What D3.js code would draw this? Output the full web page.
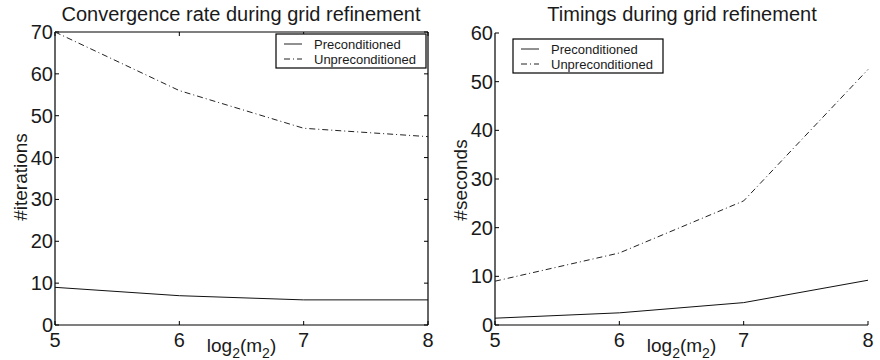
<!DOCTYPE html>
<html><head><meta charset="utf-8">
<script src="https://cdn.jsdelivr.net/npm/d3@7/dist/d3.min.js"></script>
<style>body{margin:0;background:#fff}svg{display:block}text{font-family:"Liberation Sans",Arial,sans-serif;fill:#1a1a1a}</style>
</head><body><svg id="c" width="880" height="360"></svg>
<script>
const xValues = [5, 6, 7, 8];
const iterPre = [9, 7, 6, 6];
const iterUnpre = [70, 56, 47, 45];
const timePre = [1.4, 2.5, 4.6, 9.2];
const timeUnpre = [9, 14.8, 25.5, 52.5];
const seriesNames = ["Preconditioned", "Unpreconditioned"];
const iterTicks = [0, 10, 20, 30, 40, 50, 60, 70];
const timeTicks = [0, 10, 20, 30, 40, 50, 60];

const svg = d3.select("#c");
const dashDot = "6,3,1,3";

function panel(o) {
  const g = svg.append("g");
  const x = d3.scaleLinear().domain([5, 8]).range([o.x0, o.x1]);
  const y = d3.scaleLinear().domain([0, o.ymax]).range([o.y0, o.y1]);
  const ax = "#000";
  g.append("line").attr("x1", o.x0).attr("x2", o.x0).attr("y1", o.y0).attr("y2", o.y1).attr("stroke", ax).attr("stroke-width", 1.2);
  g.append("line").attr("x1", o.x0).attr("x2", o.x1).attr("y1", o.y0).attr("y2", o.y0).attr("stroke", ax).attr("stroke-width", 1.2);
  if (o.box) {
    g.append("line").attr("x1", o.x1).attr("x2", o.x1).attr("y1", o.y0).attr("y2", o.y1).attr("stroke", ax).attr("stroke-width", 1.2);
    g.append("line").attr("x1", o.x0).attr("x2", o.x1).attr("y1", o.y1).attr("y2", o.y1).attr("stroke", ax).attr("stroke-width", 1.2);
  }
  const tl = 4;
  o.ticks.forEach(t => {
    g.append("line").attr("x1", o.x0).attr("x2", o.x0 + tl).attr("y1", y(t)).attr("y2", y(t)).attr("stroke", ax);
    if (o.box) g.append("line").attr("x1", o.x1).attr("x2", o.x1 - tl).attr("y1", y(t)).attr("y2", y(t)).attr("stroke", ax);
    g.append("text").attr("x", o.x0 - 2).attr("y", y(t) + 7).attr("text-anchor", "end").attr("font-size", 20).text(t);
  });
  xValues.forEach(t => {
    g.append("line").attr("x1", x(t)).attr("x2", x(t)).attr("y1", o.y0).attr("y2", o.y0 - tl).attr("stroke", ax);
    if (o.box) g.append("line").attr("x1", x(t)).attr("x2", x(t)).attr("y1", o.y1).attr("y2", o.y1 + tl).attr("stroke", ax);
    g.append("text").attr("x", x(t)).attr("y", o.y0 + 22).attr("text-anchor", "middle").attr("font-size", 20).text(t);
  });
  const line = d3.line().x((d, i) => x(xValues[i])).y(d => y(d));
  g.append("path").attr("d", line(o.pre)).attr("fill", "none").attr("stroke", "#111").attr("stroke-width", 1);
  g.append("path").attr("d", line(o.unpre)).attr("fill", "none").attr("stroke", "#222").attr("stroke-width", 1).attr("stroke-dasharray", dashDot);
  g.append("text").attr("x", o.tx).attr("y", 21).attr("text-anchor", "middle").attr("font-size", 20).text(o.title);
  g.append("text").attr("transform", `translate(${o.ylx},${o.yly}) rotate(-90)`).attr("text-anchor", "middle").attr("font-size", 19).text(o.ylabel);
  const xl = g.append("text").attr("x", (x(6) + x(7)) / 2).attr("y", o.y0 + 27).attr("text-anchor", "middle").attr("font-size", 19);
  xl.append("tspan").text("log");
  xl.append("tspan").attr("font-size", 14).attr("dy", 6).text("2");
  xl.append("tspan").attr("dy", -6).text("(m");
  xl.append("tspan").attr("font-size", 14).attr("dy", 6).text("2");
  xl.append("tspan").attr("dy", -6).text(")");
  const L = o.leg;
  g.append("rect").attr("x", L.x).attr("y", L.y).attr("width", L.w).attr("height", L.h).attr("fill", "#fff").attr("stroke", "#000").attr("stroke-width", 1.2);
  seriesNames.forEach((n, i) => {
    const ly = L.y + 10 + i * 15;
    g.append("line").attr("x1", L.x + 8).attr("x2", L.x + 26).attr("y1", ly).attr("y2", ly).attr("stroke", "#222").attr("stroke-dasharray", i ? dashDot : null);
    g.append("text").attr("x", L.x + 38).attr("y", ly + 5).attr("font-size", 13).text(n);
  });
}

panel({x0: 55, x1: 428, y0: 325, y1: 32, ymax: 70, ticks: iterTicks, box: true,
  pre: iterPre, unpre: iterUnpre, title: "Convergence rate during grid refinement", tx: 241,
  ylabel: "#iterations", ylx: 27, yly: 177, leg: {x: 276, y: 34, w: 150, h: 34}});
panel({x0: 495, x1: 868, y0: 325, y1: 33, ymax: 60, ticks: timeTicks, box: false,
  pre: timePre, unpre: timeUnpre, title: "Timings during grid refinement", tx: 682,
  ylabel: "#seconds", ylx: 467, yly: 180, leg: {x: 513, y: 39, w: 150, h: 34}});
</script></body></html>
